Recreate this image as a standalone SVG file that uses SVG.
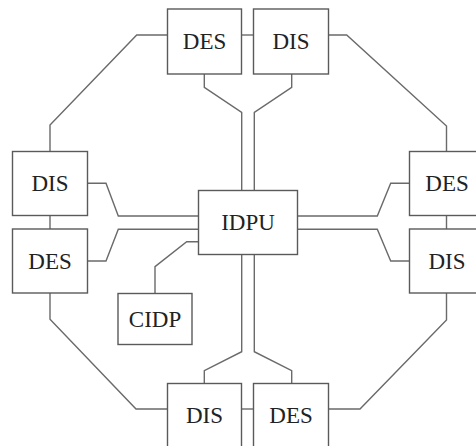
<svg xmlns="http://www.w3.org/2000/svg" width="476" height="446" viewBox="0 0 476 446">
<style>
.ln{fill:none;stroke:#6a6a6a;stroke-width:1.4;stroke-linejoin:miter}
.bx{fill:#fff;stroke:#5a5a5a;stroke-width:1.4}
.t{font-family:"Liberation Serif","DejaVu Serif",serif;font-size:23px;fill:#222;text-anchor:middle}
</style>
<rect width="476" height="446" fill="#fff"/>
<g id="connectors">
<path class="ln" d="M167.5,35 H136.7 L50,125 V151.5"/>
<path class="ln" d="M50,215.5 V229"/>
<path class="ln" d="M50,293 V319.3 L136,409 H167.5"/>
<path class="ln" d="M241.5,409 H253.5"/>
<path class="ln" d="M328.5,409 H360 L446.5,320 V293"/>
<path class="ln" d="M446.5,215.5 V229"/>
<path class="ln" d="M446.5,151.5 V126 L346.7,35 H328.5"/>
<path class="ln" d="M241.5,35 H253.5"/>
<path class="ln" d="M204.3,74 V87.3 L241.7,112.3 V351.7 L204.3,370.7 V383.5"/>
<path class="ln" d="M291.7,74 V87.3 L254.3,112.3 V351.7 L291.7,370.7 V383.5"/>
<path class="ln" d="M87.5,183.3 H106 L118.3,216 H198.5"/>
<path class="ln" d="M87.5,261 H106 L118.3,229.3 H198.5"/>
<path class="ln" d="M297.5,216 H377.3 L390.7,183.3 H409.5"/>
<path class="ln" d="M297.5,229.3 H377.3 L390.7,261 H409.5"/>
<path class="ln" d="M198.5,241.7 H186.7 L155,266.7 V293.5"/>
</g>
<g id="des-top"><rect class="bx" x="167.5" y="9" width="74" height="65"/><text class="t" x="204.5" y="49">DES</text></g>
<g id="dis-top"><rect class="bx" x="253.5" y="9" width="75" height="65"/><text class="t" x="291" y="49">DIS</text></g>
<g id="dis-left"><rect class="bx" x="12.5" y="151.5" width="75" height="64"/><text class="t" x="50" y="191">DIS</text></g>
<g id="des-left"><rect class="bx" x="12.5" y="229" width="75" height="64"/><text class="t" x="50" y="269">DES</text></g>
<g id="idpu"><rect class="bx" x="198.5" y="190.5" width="99" height="64"/><text class="t" x="248" y="230">IDPU</text></g>
<g id="cidp"><rect class="bx" x="118" y="293.5" width="74" height="51"/><text class="t" x="155" y="327">CIDP</text></g>
<g id="des-right"><rect class="bx" x="409.5" y="151.5" width="75" height="64"/><text class="t" x="447" y="191">DES</text></g>
<g id="dis-right"><rect class="bx" x="409.5" y="229" width="75" height="64"/><text class="t" x="447" y="269">DIS</text></g>
<g id="dis-bottom"><rect class="bx" x="167.5" y="383.5" width="74" height="65"/><text class="t" x="204.5" y="423">DIS</text></g>
<g id="des-bottom"><rect class="bx" x="253.5" y="383.5" width="75" height="65"/><text class="t" x="291" y="423">DES</text></g>
</svg>
